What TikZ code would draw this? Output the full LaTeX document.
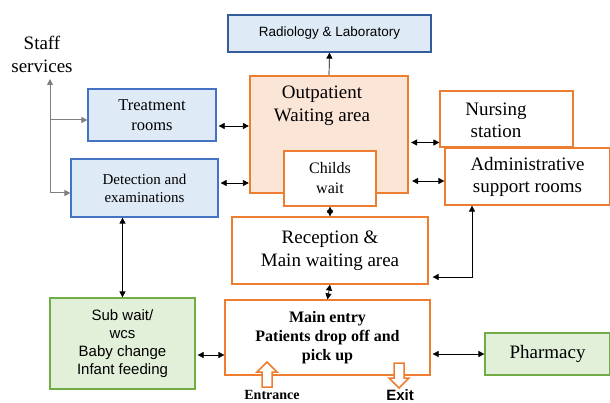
\documentclass[tikz,border=0pt]{standalone}
\usepackage{fontspec}
\setmainfont{Liberation Serif}
\setsansfont{Liberation Sans}
\usetikzlibrary{positioning,arrows.meta}
\definecolor{bluebd}{HTML}{4472C4}
\definecolor{bluefl}{HTML}{DEEBF7}
\definecolor{orangebd}{HTML}{ED7D31}
\definecolor{peachfl}{HTML}{FBE5D6}
\definecolor{greenbd}{HTML}{70AD47}
\definecolor{greenfl}{HTML}{E2F0D9}
\definecolor{staffgray}{HTML}{7F7F7F}
\newcommand{\fsz}[2]{\fontsize{#1}{#2}\selectfont}
\begin{document}
\begin{tikzpicture}[x=1pt,y=-1pt,
    box/.style={draw, line width=1.2pt, inner sep=0pt, align=center},
    bluebox/.style={box, draw=bluebd, fill=bluefl},
    orangebox/.style={box, draw=orangebd, fill=white},
    greenbox/.style={box, draw=greenbd, fill=greenfl},
    tip/.style={-{Triangle[length=6pt,width=6pt]}, line width=0.7pt},
    link/.style={{Triangle[length=6pt,width=6pt]}-{Triangle[length=6pt,width=6pt]}, line width=0.7pt},
    stafflink/.style={draw=staffgray, line width=1pt},
    hollowarrow/.style={draw=orangebd, fill=white, line width=1.5pt, line join=miter}]
  \useasboundingbox (0,0) rectangle (610,403);
  % top and centre
  \node[bluebox, draw=bluebd!80!black, minimum width=203, minimum height=37,
    font=\sffamily\fsz{13.5}{16}] (radio) at (329.5,33.5) {Radiology \& Laboratory};
  \node[orangebox, fill=peachfl, line width=2.2pt, minimum width=158,
    minimum height=117] (opw) at (329,134.5) {};
  \node[align=center, font=\fsz{19}{23}] (opwtext) at (322,106) {Outpatient\\Waiting area};
  \node[orangebox, minimum width=92, minimum height=55, font=\fsz{16}{20}]
    (child) at (330,178.5) {Childs\\wait};
  % right side
  \node[orangebox, minimum width=133, minimum height=56] (nurse) at (506.5,119) {};
  \node[align=center, font=\fsz{19}{22}] (nursetext) at (496,120) {Nursing\\station};
  \node[orangebox, minimum width=165, minimum height=57, font=\fsz{19}{22}]
    (admin) at (527.5,176.5) {Administrative\\support rooms};
  % left side
  \node[bluebox, minimum width=128, minimum height=52, font=\fsz{16.5}{20}]
    (treat) at (152,115) {Treatment\\rooms};
  \node[bluebox, minimum width=147, minimum height=58, font=\fsz{15}{18}]
    (detect) at (144.5,188) {Detection and\\examinations};
  \node[align=center, font=\fsz{19}{23}] (staff) at (42,54) {Staff\\services};
  % lower part
  \node[orangebox, minimum width=196, minimum height=67, font=\fsz{19}{23}]
    (recep) at (330,250.5) {Reception \&\\Main waiting area};
  \node[orangebox, minimum width=205, minimum height=75, font=\bfseries\fsz{16}{19}]
    (mainentry) at (327.5,337.5) {Main entry\\Patients drop off and\\pick up};
  \node[greenbox, minimum width=145, minimum height=91, font=\sffamily\fsz{15}{18}]
    (subwait) at (122.5,343.5) {Sub wait/\\wcs\\Baby change\\Infant feeding};
  \node[greenbox, minimum width=125, minimum height=42, font=\fsz{19}{22}]
    (pharm) at (547.5,354) {Pharmacy};
  \node[font=\bfseries\fsz{14}{16}] (entrance) at (272,395) {Entrance};
  \node[font=\sffamily\bfseries\fsz{15}{17}] (exit) at (400,395) {Exit};
  % entrance and exit arrows
  \draw[hollowarrow, shift={(267,375)}] (-5,12) -- (-5,-3) -- (-10,-3) -- (0,-13)
    -- (10,-3) -- (5,-3) -- (5,12) -- cycle;
  \draw[hollowarrow, shift={(399,375)}, rotate=180] (-5,12) -- (-5,-3) -- (-10,-3)
    -- (0,-13) -- (10,-3) -- (5,-3) -- (5,12) -- cycle;
  % staff services lines
  \coordinate (stafftop) at (50,79);
  \coordinate (staffbranch) at (50,120);
  \draw[stafflink, {Triangle[length=6pt,width=6pt]}-{Triangle[length=6pt,width=6pt]}]
    ([yshift=-5pt]detect.west) -| (stafftop);
  \draw[stafflink, -{Triangle[length=6pt,width=6pt]}] (staffbranch) -- (staffbranch -| treat.west);
  % connectors
  \draw[tip] (opw.north) -- (radio.south);
  \draw[link] ([xshift=2pt,yshift=-11pt]treat.east) -- ([yshift=-11pt]treat.east -| opw.west);
  \draw[link] ([xshift=2pt,yshift=5pt]detect.east) -- ([yshift=5pt]detect.east -| opw.west);
  \draw[link] ([xshift=2pt,yshift=-8pt]opw.east) -- ([yshift=-8pt]opw.east -| nurse.west);
  \draw[link] ([xshift=3pt,yshift=-46.5pt]opw.east) -- ([yshift=-46.5pt]opw.east -| admin.west);
  \draw[link] (child.south) -- (recep.north);
  \draw[link] (recep.south) -- (mainentry.north);
  \draw[link] ([xshift=4pt,yshift=-26.5pt]recep.east) -| ([xshift=-55.5pt]admin.south);
  \draw[link] (subwait.north) -- (subwait.north |- detect.south);
  \draw[link] ([xshift=2pt,yshift=-11.5pt]subwait.east) -- ([yshift=-11.5pt]subwait.east -| mainentry.west);
  \draw[link] ([xshift=2pt]pharm.west -| mainentry.east) -- (pharm.west);
\end{tikzpicture}
\end{document}
